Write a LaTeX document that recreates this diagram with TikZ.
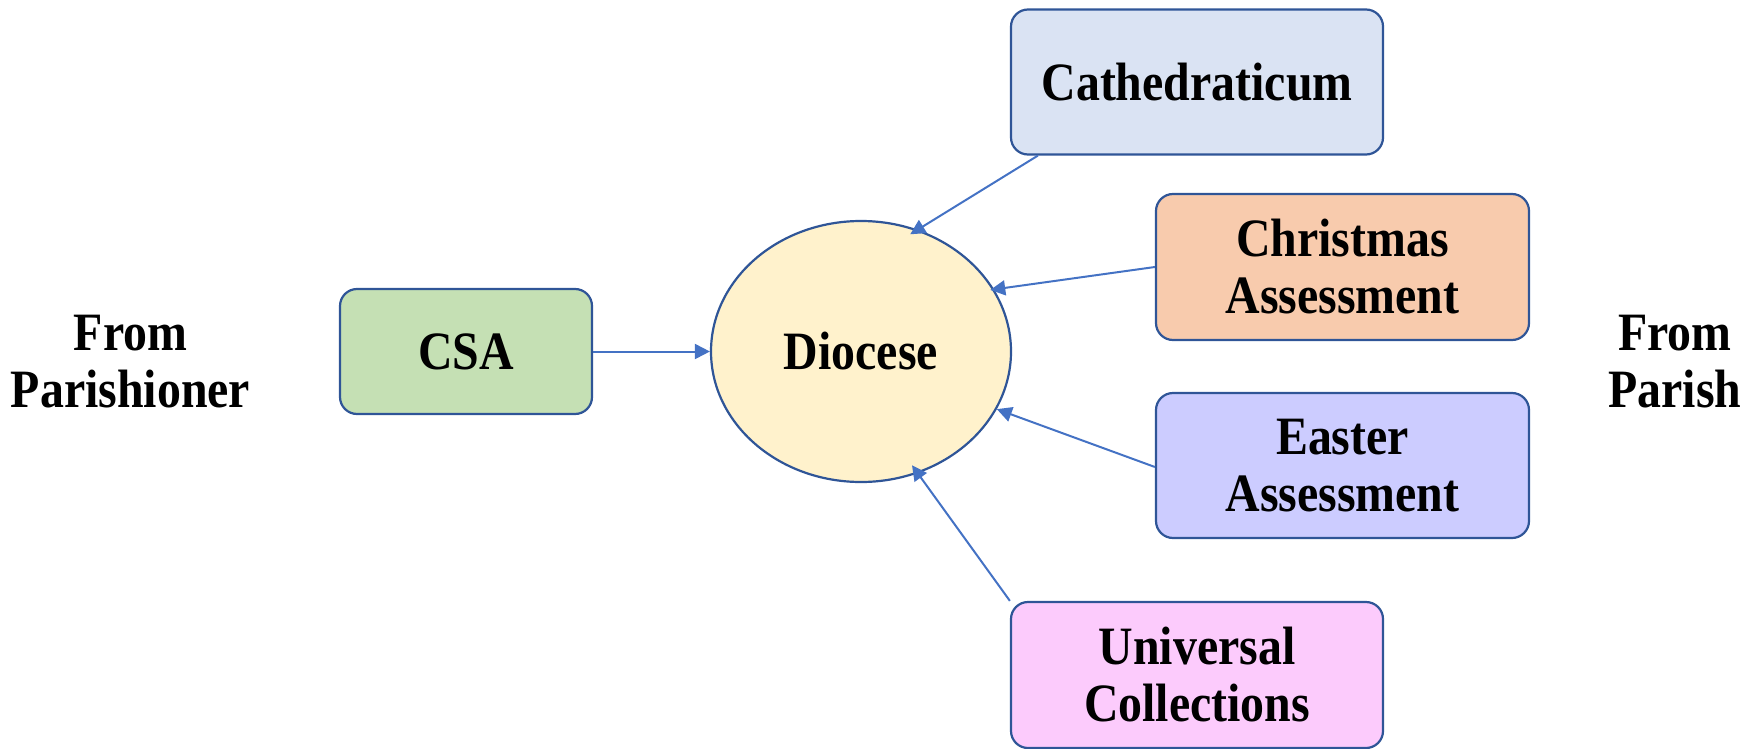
\documentclass[tikz,border=0pt]{standalone}
\usepackage{fontspec}
\setmainfont{Liberation Serif}[FakeStretch=0.886]
\usetikzlibrary{shapes.geometric,arrows.meta}
\definecolor{bord}{HTML}{2F5597}
\definecolor{arrc}{HTML}{4472C4}
\definecolor{fcat}{HTML}{DAE3F3}
\definecolor{fchr}{HTML}{F8CBAD}
\definecolor{feas}{HTML}{CCCCFF}
\definecolor{funi}{HTML}{FCCBFC}
\definecolor{fcsa}{HTML}{C5E0B4}
\definecolor{fdio}{HTML}{FFF2CC}
\begin{document}
\begin{tikzpicture}[x=1pt,y=-1pt,
  every node/.style={font=\fontsize{54}{57}\selectfont\bfseries, align=center, inner sep=0pt},
  boxnode/.style={draw=bord, line width=2.2pt, rounded corners=17pt},
  arr/.style={draw=arrc, line width=2pt, -{Triangle[length=15pt,width=15pt]}}]
\useasboundingbox (0,0) rectangle (1763,749);
\node[boxnode, fill=fcsa, minimum width=252pt, minimum height=125pt] (csa) at (466,351.5) {CSA};
\node[ellipse, draw=bord, line width=2.2pt, fill=fdio, minimum width=300pt, minimum height=261pt] (dio) at (861,351.5) {Diocese};
\node[boxnode, fill=fcat, minimum width=372pt, minimum height=145pt] (cat) at (1197,82) {Cathedraticum};
\node[boxnode, fill=fchr, minimum width=373pt, minimum height=146pt] (chr) at (1342.5,267) {Christmas\\Assessment};
\node[boxnode, fill=feas, minimum width=373pt, minimum height=145pt] (eas) at (1342.5,465.5) {Easter\\Assessment};
\node[boxnode, fill=funi, minimum width=372pt, minimum height=146pt] (uni) at (1197,675) {Universal\\Collections};
\node (lp) at (130.5,362) {From\\Parishioner};
\node (rp) at (1675,362) {From\\Parish};
\draw[arr] (csa.east) -- (dio.west);
\draw[arr, shorten >=-9pt] ([xshift=28pt]cat.south west) -- (dio.65);
\draw[arr, shorten >=-4pt] (chr.west) -- (dio.25.5);
\draw[arr] ([yshift=-1.5pt]eas.west) -- (dio.-23.3);
\draw[arr, shorten >=-10pt] (uni.north west) -- (dio.-65);
\end{tikzpicture}
\end{document}
